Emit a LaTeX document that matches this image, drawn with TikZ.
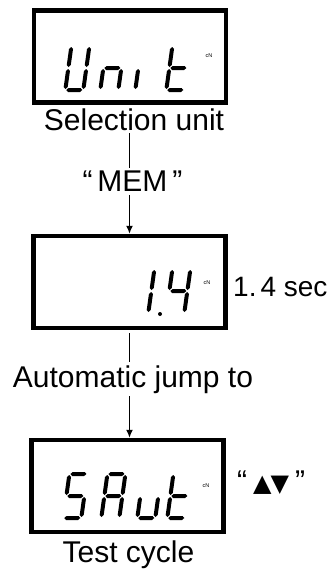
\documentclass[tikz,border=0pt]{standalone}
\usepackage{fontspec}
\setmainfont{Liberation Sans}
\newfontfamily\symfont{DejaVu Sans}
\usetikzlibrary{arrows.meta,positioning}

% LCD segments in digit units (y up, digit is 22 x 48)
\newcommand{\hseg}[3]{\fill (#1,#3) -- (#1+2,#3+2) -- (#2-2,#3+2) -- (#2,#3) -- (#2-2,#3-2) -- (#1+2,#3-2) -- cycle;}
\newcommand{\vseg}[3]{\fill (#1,#2) -- (#1+2,#2+2) -- (#1+2,#3-2) -- (#1,#3) -- (#1-2,#3-2) -- (#1-2,#2+2) -- cycle;}
\newcommand{\segA}{\hseg{3}{19}{46}}
\newcommand{\segB}{\vseg{20}{25}{45}}
\newcommand{\segC}{\vseg{20}{3}{23}}
\newcommand{\segD}{\hseg{3}{19}{2}}
\newcommand{\segE}{\vseg{2}{3}{23}}
\newcommand{\segF}{\vseg{2}{25}{45}}
\newcommand{\segG}{\hseg{3}{19}{24}}
% slanted digit with its lower left corner at #1
\newcommand{\lcd}[2]{\begin{scope}[shift={#1}, y=1pt, xslant=0.14] #2 \end{scope}}

\tikzset{
  lcdbox/.style={draw, line width=4.5pt, minimum width=192pt, minimum height=92pt, inner sep=0pt},
  txt/.style={font=\fontsize{30}{30}\selectfont, inner sep=3pt, anchor=base},
  unit/.style={font=\fontsize{5.5}{6}\selectfont, inner sep=0pt},
  flow/.style={line width=1.3pt},
}

\begin{document}
\begin{tikzpicture}[x=1pt, y=-1pt]
\useasboundingbox (0,0) rectangle (327,571);

% the three displays
\node[lcdbox] (box1) at (130,56.5) {};
\node[lcdbox] (box2) at (129.5,282) {};
\node[lcdbox] (box3) at (127.5,486) {};

% Unit
\lcd{(63,92)}{\segB\segC\segD\segE\segF}
\lcd{(98,92)}{\segC\segE\segG}
\lcd{(133,92)}{\segE}
\lcd{(164,92)}{\segD\segE\segF\segG}
\node[unit] (unit1) at (209,55.5) {cN};

% 1.4
\lcd{(128,315)}{\segB\segC}
\fill (160,314) circle (2);
\lcd{(164,315)}{\segB\segC\segF\segG}
\node[unit] (unit2) at (207,282.5) {cN};

% SAut
\lcd{(61,520)}{\segA\segC\segD\segF\segG}
\lcd{(99,520)}{\segA\segB\segC\segE\segF\segG}
\lcd{(135,520)}{\segC\segD\segE}
\lcd{(165,520)}{\segD\segE\segF\segG}
\node[unit] (unit3) at (206,485.5) {cN};

% texts
\node[txt] (sel) at (134,130) {Selection unit};
\node[txt] (mem) at (132.5,191.7) {“\,MEM\,”};
\node[txt, anchor=base west, inner sep=0pt, font=\fontsize{28}{28}\selectfont] (sec) at (233,296.7) {1.\kern4pt4 sec};
\node[txt] (auto) at (133,387) {Automatic jump to};
\node[txt, anchor=base west, inner sep=0pt] (keys) at (237,491) {“\hspace{6pt}{\symfont\fontsize{24}{24}\selectfont ▲\kern-1pt▼}\hspace{6pt}”};
\node[txt] (test) at (128.5,562) {Test cycle};

% connectors
\draw[flow] (sel.south -| box2) -- (mem.north -| box2);
\draw[flow, -{Latex[length=8pt,width=7pt]}] (mem.south -| box2) -- (box2.north);
\draw[flow, shorten <=3pt] (box2.south) -- (auto.north -| box2);
\draw[flow, -{Latex[length=8pt,width=7pt]}] (auto.south -| box2) -- (box3.north -| box2);
\end{tikzpicture}
\end{document}
